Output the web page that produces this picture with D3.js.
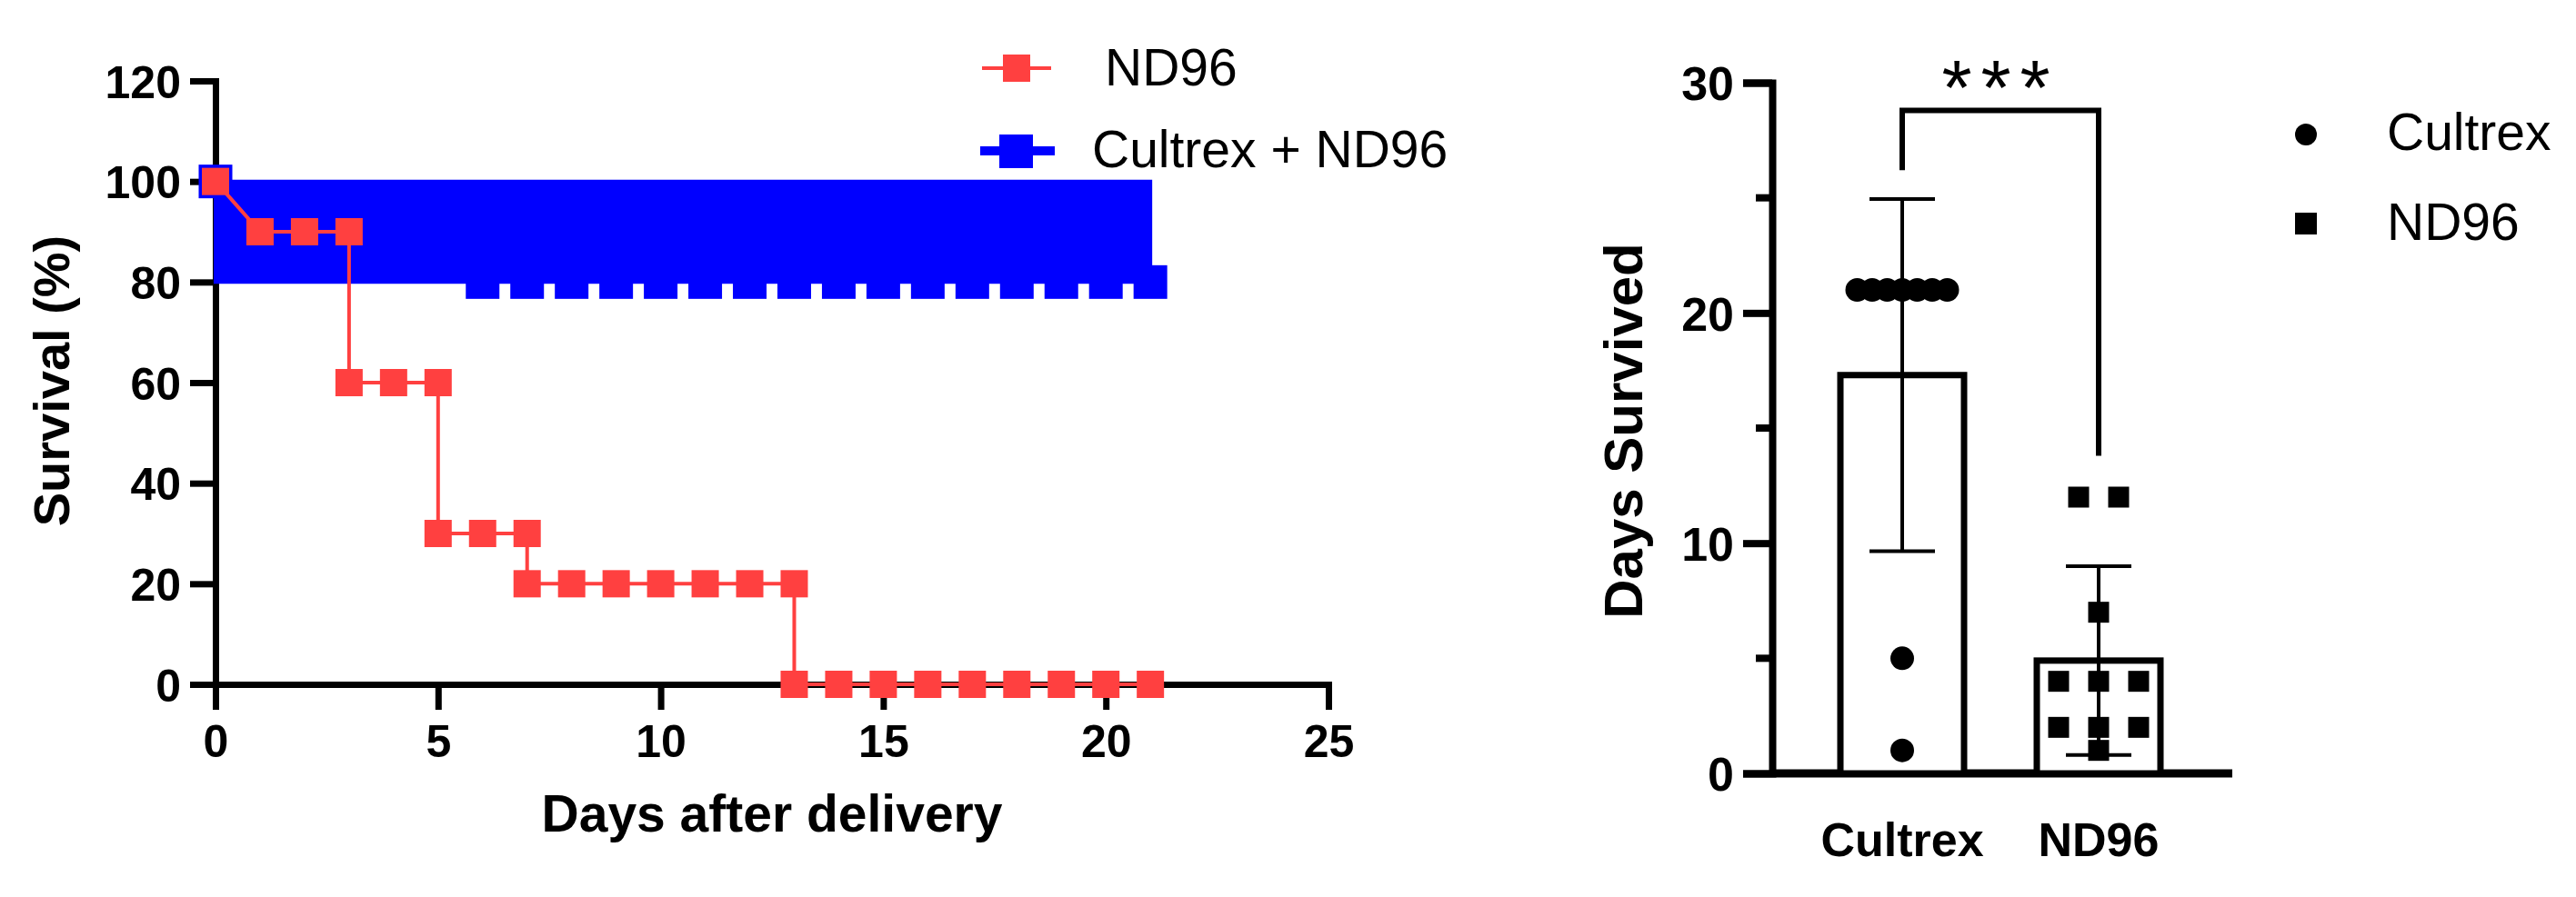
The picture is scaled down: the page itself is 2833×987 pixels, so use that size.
<!DOCTYPE html>
<html>
<head>
<meta charset="utf-8">
<script src="https://cdn.jsdelivr.net/npm/d3@7"></script>
<style>
  body { margin: 0; background: #fff; }
  text { font-family: "Liberation Sans", Arial, sans-serif; }
</style>
</head>
<body>
<svg id="chart" width="2833" height="987"></svg>
<script>
// survival curve data
const ndDays = [0, 1, 2, 3, 4, 5, 6, 7, 8, 9, 10, 11, 12, 13, 14, 15, 16, 17, 18, 19, 20, 21]
const ndSurv = [100, 90, 90, 60, 60, 30, 30, 20, 20, 20, 20, 20, 20, 0, 0, 0, 0, 0, 0, 0, 0, 0]
const cxDays = [0, 6, 7, 8, 9, 10, 11, 12, 13, 14, 15, 16, 17, 18, 19, 20, 21]
const cxSurv = [100, 80, 80, 80, 80, 80, 80, 80, 80, 80, 80, 80, 80, 80, 80, 80, 80]
const cxBand = { from: 0, to: 21, lo: 80, hi: 100 }
const survTicks = [0, 20, 40, 60, 80, 100, 120]
const dayTicks = [0, 5, 10, 15, 20, 25]

// days survived data
const groups = ['Cultrex', 'ND96']
const means = [17.3, 4.9]
const sds = [7.65, 4.1]
const cultrexPts = [21, 21, 21, 21, 21, 21, 21, 5, 1]
const nd96Pts = [12, 12, 7, 4, 4, 4, 2, 2, 2, 1]
const daysTicks = [0, 10, 20, 30]
const daysMinor = [5, 15, 25]

const red = '#ff4040', blue = '#0000ff'
const svg = d3.select('#chart')

// ---------- left: survival ----------
const x = d3.scaleLinear().domain([0, 25]).range([237, 1461])
const y = d3.scaleLinear().domain([0, 120]).range([753, 89])

const yAx = svg.append('g').attr('transform', 'translate(237,0)')
  .call(d3.axisLeft(y).tickValues(survTicks).tickSize(28).tickPadding(10))
const xAx = svg.append('g').attr('transform', 'translate(0,753)')
  .call(d3.axisBottom(x).tickValues(dayTicks).tickSize(28).tickPadding(16))
;[yAx, xAx].forEach(a => {
  a.select('.domain').attr('stroke', '#000').attr('stroke-width', 7)
  a.selectAll('.tick line').attr('stroke', '#000').attr('stroke-width', 7)
  a.selectAll('.tick text').attr('fill', '#000').style('font-size', '50px').style('font-weight', 'bold')
})
yAx.selectAll('.tick text').attr('dy', '0.36em')

svg.append('text').attr('transform', 'translate(76,419) rotate(-90)')
  .attr('text-anchor', 'middle').style('font-size', '56px').style('font-weight', 'bold')
  .text('Survival (%)')
svg.append('text').attr('x', 849).attr('y', 915).attr('text-anchor', 'middle')
  .style('font-size', '57px').style('font-weight', 'bold').text('Days after delivery')

// blue band + markers
svg.append('path')
  .datum([cxBand.from, cxBand.to])
  .attr('d', d3.area().x(d => x(d)).y0(y(cxBand.lo)).y1(y(cxBand.hi)))
  .attr('fill', blue).attr('stroke', blue).attr('stroke-width', 4)
const bs = 37
svg.append('g').selectAll('rect').data(cxDays.map((d, i) => [d, cxSurv[i]]))
  .join('rect')
  .attr('x', d => x(d[0]) - bs / 2).attr('y', d => y(d[1]) - bs / 2)
  .attr('width', bs).attr('height', bs).attr('fill', blue)
// white separators between the blue markers below the band
svg.append('g').selectAll('rect').data(cxDays.slice(1, -1))
  .join('rect')
  .attr('x', d => x(d + 0.5) - 4).attr('y', y(cxBand.lo) + 3)
  .attr('width', 8).attr('height', bs / 2).attr('fill', '#fff')

// red curve
const ndPts = ndDays.map((d, i) => [d, ndSurv[i]])
const stepPts = ndPts.slice(1)
const linePath = d3.line().x(d => x(d[0])).y(d => y(d[1]))
svg.append('path').attr('d', linePath(ndPts.slice(0, 2)))
  .attr('fill', 'none').attr('stroke', red).attr('stroke-width', 4)
svg.append('path').attr('d', d3.line().x(d => x(d[0])).y(d => y(d[1])).curve(d3.curveStepAfter)(stepPts))
  .attr('fill', 'none').attr('stroke', red).attr('stroke-width', 4)
const ndMarks = ndPts.slice()
ndDays.forEach((d, i) => { if (i > 1 && ndSurv[i] !== ndSurv[i - 1]) ndMarks.push([d, ndSurv[i - 1]]) })
const rs = 30
svg.append('g').selectAll('rect').data(ndMarks).join('rect')
  .attr('x', d => x(d[0]) - rs / 2).attr('y', d => y(d[1]) - rs / 2)
  .attr('width', rs).attr('height', rs).attr('fill', red)

// legend left
const lg = svg.append('g')
lg.append('line').attr('x1', 1080).attr('x2', 1156).attr('y1', 75).attr('y2', 75).attr('stroke', red).attr('stroke-width', 4)
lg.append('rect').attr('x', 1103).attr('y', 60).attr('width', rs).attr('height', rs).attr('fill', red)
lg.append('text').attr('x', 1215).attr('y', 94).style('font-size', '57px').text('ND96')
lg.append('line').attr('x1', 1078).attr('x2', 1160).attr('y1', 166).attr('y2', 166).attr('stroke', blue).attr('stroke-width', 10)
lg.append('rect').attr('x', 1099).attr('y', 148).attr('width', bs).attr('height', bs).attr('fill', blue)
lg.append('text').attr('x', 1201).attr('y', 184).style('font-size', '57px').text('Cultrex + ND96')

// ---------- right: days survived ----------
const xr = d3.scalePoint().domain(groups).range([2092, 2308])
const yr = d3.scaleLinear().domain([0, 30]).range([851, 91])

const yrAx = svg.append('g').attr('transform', 'translate(1949,0)')
  .call(d3.axisLeft(yr).tickValues(daysTicks).tickSize(32).tickPadding(10))
yrAx.select('.domain').attr('stroke', '#000').attr('stroke-width', 8)
yrAx.selectAll('.tick line').attr('stroke', '#000').attr('stroke-width', 8)
yrAx.selectAll('.tick text').attr('fill', '#000').attr('dy', '0.36em').style('font-size', '52px').style('font-weight', 'bold')
svg.append('g').selectAll('line').data(daysMinor).join('line')
  .attr('x1', 1931).attr('x2', 1949).attr('y1', d => yr(d)).attr('y2', d => yr(d))
  .attr('stroke', '#000').attr('stroke-width', 8)
svg.append('line').attr('x1', 1949).attr('x2', 2455).attr('y1', yr(0)).attr('y2', yr(0))
  .attr('stroke', '#000').attr('stroke-width', 9)

svg.append('g').selectAll('text').data(groups).join('text')
  .attr('x', d => xr(d)).attr('y', 942).attr('text-anchor', 'middle')
  .style('font-size', '52px').style('font-weight', 'bold').text(d => d)
svg.append('text').attr('transform', 'translate(1806,474) rotate(-90)')
  .attr('text-anchor', 'middle').style('font-size', '60px').style('font-weight', 'bold')
  .text('Days Survived')

// bars
const bw = 136
svg.append('g').selectAll('rect').data(groups).join('rect')
  .attr('x', d => xr(d) - bw / 2).attr('y', (d, i) => yr(means[i]))
  .attr('width', bw).attr('height', (d, i) => yr(0) - yr(means[i]))
  .attr('fill', '#fff').attr('stroke', '#000').attr('stroke-width', 7)

// error bars
const eb = svg.append('g').attr('stroke', '#000').attr('stroke-width', 4)
groups.forEach((g, i) => {
  const cx = xr(g), hi = yr(means[i] + sds[i]), lo = yr(means[i] - sds[i])
  eb.append('line').attr('x1', cx).attr('x2', cx).attr('y1', hi).attr('y2', lo)
  eb.append('line').attr('x1', cx - 36).attr('x2', cx + 36).attr('y1', hi).attr('y2', hi)
  eb.append('line').attr('x1', cx - 36).attr('x2', cx + 36).attr('y1', lo).attr('y2', lo)
})

// scatter points, spread where values repeat
function spread(vals, step) {
  const out = []
  const counts = d3.rollup(vals, v => v.length, d => d)
  const seen = new Map()
  vals.forEach(v => {
    const n = counts.get(v), k = seen.get(v) || 0
    seen.set(v, k + 1)
    out.push({ v, off: (k - (n - 1) / 2) * step })
  })
  return out
}
svg.append('g').selectAll('circle').data(spread(cultrexPts, 16.5)).join('circle')
  .attr('cx', d => xr('Cultrex') + d.off).attr('cy', d => yr(d.v)).attr('r', 13).attr('fill', '#000')
const ps = 23
svg.append('g').selectAll('rect').data(spread(nd96Pts, 44)).join('rect')
  .attr('x', d => xr('ND96') + d.off - ps / 2).attr('y', d => yr(d.v) - ps / 2)
  .attr('width', ps).attr('height', ps).attr('fill', '#000')

// significance bracket
svg.append('path')
  .attr('d', `M${xr('Cultrex')},${yr(26.2)}V${yr(28.8)}H${xr('ND96')}V${yr(13.8)}`)
  .attr('fill', 'none').attr('stroke', '#000').attr('stroke-width', 6)
svg.append('text').attr('x', 2200).attr('y', 126).attr('text-anchor', 'middle')
  .style('font-size', '85px').style('letter-spacing', '10px').text('***')

// legend right
svg.append('circle').attr('cx', 2536).attr('cy', 148).attr('r', 12).attr('fill', '#000')
svg.append('text').attr('x', 2625).attr('y', 165).style('font-size', '57px').text('Cultrex')
svg.append('rect').attr('x', 2524).attr('y', 234).attr('width', 24).attr('height', 24).attr('fill', '#000')
svg.append('text').attr('x', 2625).attr('y', 264).style('font-size', '57px').text('ND96')
</script>
</body>
</html>
